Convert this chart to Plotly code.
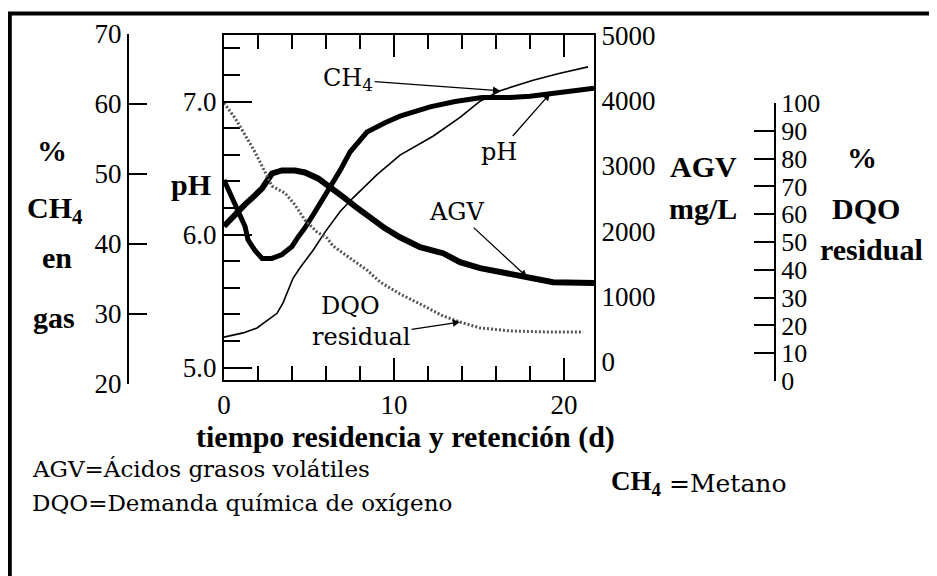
import plotly.graph_objects as go

W, H = 937, 576
OFF = 8  # the page body margin shifts the figure by this many pixels

# ---------------- data ----------------
# % CH4 in gas vs. time (d)
t_ch4 = [0, 1.12, 1.94, 2.53, 3.12, 3.47, 3.76, 4.06, 4.47, 5.24, 5.94, 6.82, 7.59, 9.0,
         10.35, 12.29, 13.88, 15.06, 16.24, 18.18, 19.76, 21.41]
ch4 = [26.7, 27.3, 28.0, 29.1, 30.1, 31.6, 33.4, 35.1, 36.6, 39.1, 41.7, 44.6, 46.6, 49.9,
       52.7, 55.4, 58.1, 60.4, 61.9, 63.4, 64.4, 65.3]

# pH vs. time (d)
t_ph = [0, 0.41, 0.82, 1.24, 1.41, 1.82, 2.24, 2.82, 3.41, 4.0, 4.35, 4.76, 5.35, 6.12,
        6.82, 7.41, 8.41, 9.47, 10.35, 12.12, 13.59, 15.18, 16.82, 18.0, 19.18, 20.35, 21.76]
ph = [6.41, 6.29, 6.17, 6.06, 5.96, 5.88, 5.82, 5.82, 5.85, 5.91, 5.98, 6.05, 6.17, 6.33,
      6.48, 6.62, 6.77, 6.84, 6.89, 6.96, 7.00, 7.03, 7.03, 7.04, 7.06, 7.08, 7.10]

# AGV (mg/L) vs. time (d)
t_agv = [0, 0.65, 1.24, 1.82, 2.24, 2.82, 3.41, 4.18, 4.76, 5.53, 6.12, 7.12, 7.71, 8.59,
         9.47, 10.35, 11.53, 12.88, 13.88, 15.06, 16.24, 17.82, 19.35, 21.76]
agv = [2073, 2256, 2408, 2546, 2653, 2881, 2927, 2927, 2897, 2805, 2698, 2500, 2378, 2210,
       2042, 1905, 1752, 1661, 1524, 1432, 1371, 1295, 1218, 1203]

# % DQO residual vs. time (d)
t_dqo = [0, 0.65, 1.24, 1.82, 2.41, 2.82, 3.59, 4.18, 4.76, 5.47, 6.06, 6.41, 7.41, 8.41,
         9.18, 10.35, 11.53, 12.88, 13.88, 15.06, 16.82, 19.18, 21.12]
dqo = [100, 94.6, 88.5, 82.4, 75.2, 70.1, 67.6, 63.3, 57.9, 53.6, 51.4, 48.6, 44.2, 39.9,
       35.6, 31.3, 27.7, 23.4, 21.2, 19.1, 18.0, 17.6, 17.6]

# tick values
x_ticks = [0, 10, 20]
ph_ticks = [5.0, 6.0, 7.0]
ph_labels = ["5.0", "6.0", "7.0"]
agv_ticks = [0, 1000, 2000, 3000, 4000, 5000]
agv_marks = [1000, 2000, 3000, 4000]
ch4_ticks = [20, 30, 40, 50, 60, 70]
dqo_ticks = [0, 10, 20, 30, 40, 50, 60, 70, 80, 90, 100]


def px(x):
    return (x - OFF) / W


def py(y):
    return 1 - (y - OFF) / H


FONT = "Liberation Serif"
SERIF2 = "DejaVu Serif"
tickfont = dict(family=FONT, size=27, color="black")

fig = go.Figure()
fig.add_trace(go.Scatter(x=t_dqo, y=dqo, xaxis="x", yaxis="y5", mode="lines",
                         line=dict(color="#555555", width=3, dash="2px,2px"),
                         hoverinfo="skip"))
fig.add_trace(go.Scatter(x=t_ch4, y=ch4, xaxis="x", yaxis="y4", mode="lines",
                         line=dict(color="black", width=1.6), hoverinfo="skip"))
fig.add_trace(go.Scatter(x=t_agv, y=agv, xaxis="x", yaxis="y2", mode="lines",
                         line=dict(color="black", width=6), hoverinfo="skip"))
fig.add_trace(go.Scatter(x=t_ph, y=ph, xaxis="x", yaxis="y", mode="lines",
                         line=dict(color="black", width=5), hoverinfo="skip"))

xdom = [px(224), px(594)]
ydom = [py(380), py(35)]

fig.update_layout(
    template="none",
    width=W, height=H,
    margin=dict(l=0, r=0, t=0, b=0, pad=0, autoexpand=False),
    paper_bgcolor="white", plot_bgcolor="rgba(0,0,0,0)",
    showlegend=False,
    font=dict(family=FONT, color="black"),
    xaxis=dict(domain=xdom, range=[0, 21.76], anchor="y", automargin=False,
               showline=True, linecolor="black", linewidth=2, mirror="ticks",
               ticks="inside", ticklen=22, tickwidth=2, tickcolor="black",
               tickvals=x_ticks, tickfont=tickfont,
               minor=dict(ticks="inside", ticklen=14, tickwidth=2, tickcolor="black",
                          dtick=2, tick0=0, showgrid=False),
               showgrid=False, zeroline=False),
    yaxis=dict(domain=ydom, range=[4.906, 7.5], anchor="x", side="left", automargin=False,
               showline=True, linecolor="black", linewidth=2, mirror=True,
               ticks="inside", ticklen=28, tickwidth=2, tickcolor="black",
               tickvals=ph_ticks, ticktext=ph_labels, tickfont=tickfont,
               minor=dict(ticks="inside", ticklen=16, tickwidth=2, tickcolor="black",
                          dtick=0.2, tick0=5.0, showgrid=False),
               showgrid=False, zeroline=False),
    yaxis2=dict(overlaying="y", side="right", anchor="x", range=[-280, 5001],
                automargin=False,
                showline=True, linecolor="black", linewidth=2,
                ticks="", tickvals=agv_ticks, tickfont=tickfont,
                showgrid=False, zeroline=False),
    yaxis3=dict(overlaying="y", side="right", anchor="x", range=[-280, 5001],
                automargin=False,
                showline=False, ticks="inside", ticklen=30, tickwidth=2,
                tickcolor="black", tickvals=agv_marks, showticklabels=False,
                showgrid=False, zeroline=False),
    yaxis4=dict(domain=[py(384), py(34)], range=[20, 70], anchor="free",
                position=px(128), side="left", automargin=False,
                showline=True, linecolor="black", linewidth=2,
                ticks="inside", ticklen=18, tickwidth=2, tickcolor="black",
                tickvals=ch4_ticks, tickfont=tickfont,
                showgrid=False, zeroline=False),
    yaxis5=dict(domain=[py(381), py(103)], range=[0, 100], anchor="free",
                position=px(775), side="right", automargin=False,
                showline=True, linecolor="black", linewidth=2,
                ticks="inside", ticklen=20, tickwidth=2, tickcolor="black",
                tickvals=dqo_ticks, tickfont=dict(family=FONT, size=26, color="black"),
                showgrid=False, zeroline=False),
)

# outer frame
fig.add_shape(type="rect", xref="paper", yref="paper",
              x0=px(9.8), y0=-0.05, x1=1.05, y1=py(13.5),
              line=dict(color="black", width=4), fillcolor="rgba(0,0,0,0)")

bold = dict(family=FONT, size=30, color="black")
reg = dict(family=SERIF2, size=24, color="black")
note = dict(family=SERIF2, size=23, color="black")


def label(text, x, y, font, xanchor="center"):
    fig.add_annotation(text=text, x=px(x), y=py(y), xref="paper", yref="paper",
                       showarrow=False, font=font, xanchor=xanchor, yanchor="middle")


# axis titles
label("<b>%</b>", 52, 151, bold)
label("<b>CH<sub>4</sub></b>", 55, 210, bold)
label("<b>en</b>", 57, 257, bold)
label("<b>gas</b>", 54, 317, bold)
label("<b>pH</b>", 191, 184, bold)
label("<b>AGV</b>", 703, 166, bold)
label("<b>mg/L</b>", 703, 209, bold)
label("<b>%</b>", 862, 157, bold)
label("<b>DQO</b>", 866, 208, bold)
label("<b>residual</b>", 871, 249, bold)
label("<b>tiempo residencia y retención (d)</b>", 405, 437, bold)

# footnotes
label("AGV=Ácidos grasos volátiles", 30, 469, note, "left")
label("DQO=Demanda química de oxígeno", 30, 503, note, "left")
label("<b>CH<sub>4</sub></b>", 609, 483, dict(family=FONT, size=27, color="black"), "left")
label("=Metano", 667, 483, dict(family=SERIF2, size=25, color="black"), "left")

# in-plot labels
label("DQO", 350, 306, reg)

arrow = dict(showarrow=True, arrowhead=2, arrowsize=1.1, arrowwidth=1.3,
             arrowcolor="black", standoff=0, font=reg)
fig.add_annotation(text="CH<sub>4</sub>", x=t_ch4[18], y=ch4[18], xref="x", yref="y4",
                   ax=-152, ay=-11, **arrow)
fig.add_annotation(text="pH", x=t_ph[24], y=ph[24], xref="x", yref="y",
                   ax=-51, ay=58, **arrow)
fig.add_annotation(text="AGV", x=t_agv[21], y=agv[21], xref="x", yref="y2",
                   ax=-70, ay=-65, **arrow)
fig.add_annotation(text="residual", x=t_dqo[18], y=dqo[18], xref="x", yref="y5",
                   ax=-99, ay=15, **arrow)

fig.write_html("out.html")
